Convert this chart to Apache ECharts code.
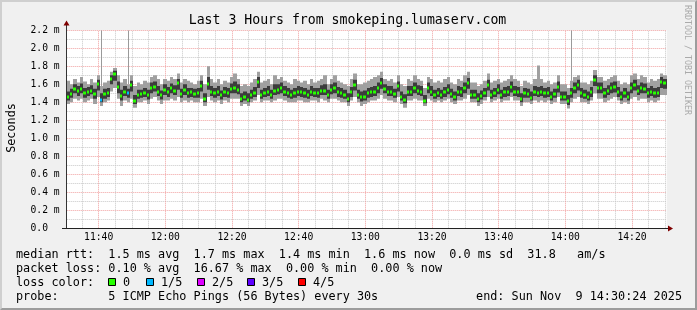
<!DOCTYPE html>
<html><head><meta charset="utf-8">
<script src="https://cdn.jsdelivr.net/npm/echarts@6/dist/echarts.min.js"></script>
<style>
html,body{margin:0;padding:0;background:#f0f0f0;}
#wrap{position:relative;width:697px;height:310px;overflow:hidden;}
#chart{position:absolute;left:0;top:0;width:697px;height:310px;}
#frame{position:absolute;left:0;top:0;width:697px;height:310px;box-sizing:border-box;border-top:2px solid #cfcfcf;border-left:2px solid #cfcfcf;border-right:2px solid #9c9c9c;border-bottom:2px solid #9c9c9c;pointer-events:none;}
</style></head><body>
<div id="wrap"><div id="chart"></div><div id="frame"></div></div>
<script>
// ---------------- data ----------------
const titleText = 'Last 3 Hours from smokeping.lumaserv.com';
const yAxisTitle = 'Seconds';
const sideText = 'RRDTOOL / TOBI OETIKER';
const startTime = '11:30:24';
const spanMinutes = 180;
const yTickValues = [0, 0.2, 0.4, 0.6, 0.8, 1.0, 1.2, 1.4, 1.6, 1.8, 2.0, 2.2];

// per-minute median RTT (ms)
const median = [
1.46,1.49,1.55,1.53,1.55,1.50,1.52,1.53,1.49,1.60,1.43,1.49,1.50,1.66,1.72,1.57,1.47,1.52,1.50,1.59,
1.41,1.48,1.49,1.50,1.48,1.56,1.57,1.52,1.48,1.54,1.51,1.56,1.53,1.61,1.49,1.54,1.50,1.51,1.49,1.50,
1.58,1.44,1.60,1.52,1.50,1.52,1.48,1.51,1.50,1.55,1.56,1.54,1.44,1.46,1.43,1.48,1.50,1.63,1.48,1.50,
1.52,1.48,1.53,1.54,1.56,1.52,1.50,1.48,1.50,1.52,1.51,1.50,1.48,1.52,1.50,1.50,1.53,1.53,1.48,1.54,
1.56,1.51,1.50,1.48,1.44,1.51,1.59,1.48,1.46,1.46,1.50,1.51,1.52,1.56,1.62,1.55,1.52,1.52,1.49,1.58,
1.46,1.43,1.52,1.52,1.56,1.53,1.52,1.42,1.56,1.52,1.48,1.50,1.48,1.51,1.54,1.49,1.46,1.52,1.51,1.56,
1.62,1.48,1.48,1.44,1.47,1.50,1.59,1.48,1.50,1.54,1.48,1.51,1.52,1.57,1.52,1.51,1.44,1.50,1.49,1.45,
1.52,1.50,1.52,1.50,1.50,1.46,1.49,1.57,1.46,1.46,1.41,1.50,1.56,1.59,1.50,1.48,1.46,1.51,1.65,1.56,
1.56,1.50,1.53,1.56,1.57,1.51,1.46,1.50,1.46,1.56,1.59,1.53,1.56,1.55,1.50,1.52,1.50,1.50,1.63,1.61
];
// slowest ping of each minute (top of smoke)
const maxPing = [
1.64,1.60,1.66,1.62,1.68,1.63,1.60,1.66,1.62,1.70,1.58,1.62,1.64,1.74,1.78,1.70,1.62,1.66,1.60,1.70,
1.58,1.62,1.60,1.64,1.62,1.68,1.70,1.66,1.60,1.66,1.64,1.68,1.66,1.72,1.62,1.66,1.64,1.62,1.60,1.64,
1.70,1.60,1.80,1.66,1.62,1.66,1.60,1.64,1.62,1.68,1.72,1.66,1.58,1.60,1.58,1.62,1.66,1.74,1.62,1.64,
1.66,1.60,1.70,1.66,1.68,1.64,1.62,1.60,1.66,1.64,1.62,1.64,1.60,1.66,1.62,1.64,1.66,1.70,1.60,1.66,
1.70,1.64,1.62,1.60,1.58,1.66,1.72,1.60,1.60,1.62,1.64,1.66,1.68,1.70,1.74,1.66,1.64,1.66,1.62,1.70,
1.60,1.58,1.66,1.64,1.70,1.66,1.64,1.56,1.68,1.66,1.62,1.64,1.62,1.66,1.68,1.62,1.60,1.66,1.64,1.70,
1.74,1.62,1.62,1.58,1.60,1.64,1.72,1.62,1.64,1.66,1.62,1.64,1.66,1.70,1.66,1.64,1.58,1.64,1.62,1.60,
1.66,1.81,1.66,1.62,1.64,1.60,1.62,1.70,1.60,1.60,1.56,1.64,1.68,1.70,1.62,1.62,1.60,1.64,1.76,1.68,
1.68,1.64,1.66,1.68,1.70,1.64,1.60,1.62,1.60,1.70,1.72,1.66,1.70,1.68,1.62,1.66,1.64,1.66,1.72,1.70
];
// fastest ping of each minute (bottom of smoke)
const minPing = [
1.38,1.40,1.44,1.42,1.44,1.40,1.42,1.44,1.38,1.46,1.36,1.40,1.42,1.52,1.56,1.44,1.36,1.42,1.40,1.44,
1.34,1.40,1.40,1.42,1.38,1.44,1.46,1.42,1.38,1.42,1.42,1.44,1.42,1.46,1.40,1.42,1.40,1.42,1.40,1.40,
1.44,1.36,1.46,1.42,1.40,1.42,1.38,1.42,1.40,1.44,1.44,1.44,1.36,1.38,1.36,1.40,1.42,1.48,1.40,1.42,
1.42,1.40,1.42,1.44,1.44,1.42,1.40,1.40,1.40,1.42,1.42,1.40,1.40,1.42,1.42,1.40,1.44,1.42,1.40,1.44,
1.44,1.42,1.40,1.40,1.36,1.42,1.46,1.40,1.36,1.38,1.40,1.42,1.42,1.44,1.48,1.44,1.42,1.42,1.40,1.46,
1.38,1.34,1.42,1.42,1.44,1.42,1.42,1.36,1.44,1.42,1.40,1.42,1.40,1.42,1.44,1.40,1.38,1.42,1.42,1.44,
1.48,1.40,1.40,1.36,1.38,1.42,1.46,1.40,1.42,1.44,1.40,1.42,1.42,1.46,1.42,1.42,1.36,1.40,1.40,1.38,
1.42,1.40,1.42,1.40,1.42,1.38,1.40,1.46,1.38,1.38,1.33,1.40,1.44,1.46,1.40,1.40,1.38,1.42,1.50,1.44,
1.44,1.40,1.42,1.44,1.46,1.42,1.38,1.40,1.38,1.44,1.46,1.42,1.44,1.44,1.40,1.42,1.40,1.42,1.48,1.48
];
// 2nd fastest ping (bottom of dense smoke)
const loPing = [
1.42,1.45,1.50,1.47,1.50,1.45,1.47,1.49,1.44,1.53,1.40,1.44,1.46,1.60,1.64,1.50,1.42,1.47,1.45,1.52,
1.38,1.44,1.45,1.46,1.43,1.50,1.52,1.47,1.43,1.48,1.46,1.50,1.48,1.54,1.45,1.48,1.45,1.46,1.45,1.45,
1.52,1.40,1.54,1.47,1.45,1.47,1.43,1.46,1.45,1.50,1.50,1.49,1.40,1.42,1.40,1.44,1.46,1.56,1.44,1.46,
1.47,1.44,1.48,1.49,1.50,1.47,1.45,1.44,1.45,1.47,1.46,1.45,1.44,1.47,1.46,1.45,1.48,1.48,1.44,1.49,
1.50,1.46,1.45,1.44,1.40,1.46,1.53,1.44,1.41,1.42,1.45,1.46,1.47,1.50,1.55,1.50,1.47,1.47,1.45,1.52,
1.42,1.39,1.47,1.47,1.50,1.48,1.47,1.39,1.50,1.47,1.44,1.46,1.44,1.46,1.49,1.45,1.42,1.47,1.46,1.50,
1.55,1.44,1.44,1.40,1.43,1.46,1.53,1.44,1.46,1.49,1.44,1.46,1.47,1.51,1.47,1.46,1.40,1.45,1.45,1.42,
1.47,1.46,1.47,1.45,1.46,1.42,1.45,1.51,1.42,1.42,1.37,1.45,1.50,1.53,1.45,1.44,1.42,1.46,1.58,1.50,
1.50,1.45,1.48,1.50,1.51,1.46,1.42,1.45,1.42,1.50,1.53,1.48,1.50,1.50,1.45,1.47,1.45,1.46,1.56,1.55
];
// 4th fastest ping (top of dense smoke)
const hiPing = [
1.52,1.55,1.60,1.58,1.61,1.56,1.57,1.59,1.55,1.65,1.50,1.55,1.56,1.70,1.75,1.63,1.54,1.58,1.55,1.64,
1.48,1.54,1.54,1.56,1.54,1.62,1.63,1.58,1.53,1.60,1.57,1.61,1.59,1.66,1.55,1.60,1.56,1.56,1.55,1.56,
1.64,1.50,1.68,1.58,1.56,1.58,1.53,1.57,1.56,1.61,1.63,1.60,1.50,1.52,1.50,1.54,1.57,1.68,1.54,1.56,
1.58,1.54,1.60,1.60,1.62,1.58,1.56,1.54,1.56,1.58,1.57,1.56,1.54,1.58,1.56,1.56,1.59,1.60,1.54,1.60,
1.62,1.57,1.56,1.54,1.50,1.57,1.65,1.54,1.52,1.53,1.56,1.57,1.58,1.62,1.67,1.60,1.58,1.58,1.55,1.63,
1.52,1.49,1.58,1.58,1.62,1.59,1.58,1.48,1.62,1.58,1.54,1.56,1.54,1.57,1.60,1.55,1.52,1.58,1.57,1.62,
1.67,1.54,1.54,1.50,1.53,1.56,1.65,1.54,1.56,1.60,1.54,1.57,1.58,1.63,1.58,1.57,1.50,1.56,1.55,1.52,
1.58,1.57,1.58,1.56,1.57,1.52,1.55,1.63,1.52,1.52,1.48,1.56,1.62,1.65,1.56,1.54,1.52,1.57,1.70,1.62,
1.62,1.56,1.59,1.62,1.63,1.57,1.52,1.56,1.52,1.62,1.65,1.59,1.62,1.61,1.56,1.58,1.56,1.57,1.68,1.66
];
// off-scale outliers
const peakSteps = [10, 18, 151];
const peakValues = [2.4, 2.4, 2.4];
// packet loss (lost pings out of 5)
const lossSteps = [10, 18];
const lossCounts = [1, 1];
const lossColors = ['#26ff00', '#00b8ff', '#dd00ff', '#5e00ff', '#ff0000'];
const lossLabels = ['0', '1/5', '2/5', '3/5', '4/5'];

const rttStats = ['1.5 ms avg', '1.7 ms max', '1.4 ms min', '1.6 ms now', '0.0 ms sd', '31.8   am/s'];
const lossStats = ['0.10 % avg', '16.67 % max', '0.00 % min', '0.00 % now'];
const probeText = '5 ICMP Echo Pings (56 Bytes) every 30s';
const endText = 'end: Sun Nov  9 14:30:24 2025';

// ---------------- build ----------------
const MONO = '"DejaVu Sans Mono", monospace';
function toMin(s){const p=s.split(':').map(Number);return p[0]*60+p[1]+(p[2]||0)/60;}
const t0 = toMin(startTime);
const gridData = [], gridLabels = [];
for (let m = Math.ceil(t0/5)*5; m <= t0 + spanMinutes + 1e-9; m += 5) {
  const major = (m % 20 === 0) ? 1 : 0;
  gridData.push([m - t0, major]);
  const h = Math.floor(m/60), mm = m % 60;
  gridLabels.push((h<10?'0':'')+h+':'+(mm<10?'0':'')+mm);
}
const lossOf = i => { const k = lossSteps.indexOf(i); return k < 0 ? 0 : lossCounts[k]; };
const smokeData = median.map((m, i) => [i, minPing[i], loPing[i], m, hiPing[i], maxPing[i], lossOf(i)]);
const peakData = peakSteps.map((s, k) => [s, maxPing[s], peakValues[k]]);
const yMax = yTickValues[yTickValues.length-1];

const chart = echarts.init(document.getElementById('chart'), null, {renderer:'canvas'});

const graphics = [];
graphics.push({type:'text', x:347.5, y:20.5, style:{text:titleText, font:'13.2px '+MONO, fill:'#000', align:'center', verticalAlign:'middle'}});
graphics.push({type:'text', x:11.5, y:128, rotation:Math.PI/2, style:{text:yAxisTitle, font:'11.8px '+MONO, fill:'#000', align:'center', verticalAlign:'middle'}});
graphics.push({type:'text', x:687.5, y:60, rotation:-Math.PI/2, style:{text:sideText, font:'8.3px '+MONO, fill:'#aaaaaa', align:'center', verticalAlign:'middle'}});
// axes
graphics.push({type:'line', shape:{x1:66.5,y1:228,x2:66.5,y2:24}, style:{stroke:'#333', lineWidth:1}, z:10});
graphics.push({type:'line', shape:{x1:62,y1:228.5,x2:668,y2:228.5}, style:{stroke:'#222', lineWidth:1}, z:10});
graphics.push({type:'polygon', shape:{points:[[63.5,25.5],[69.5,25.5],[66.5,20.5]]}, style:{fill:'#7f0000'}, z:10});
graphics.push({type:'polygon', shape:{points:[[668,225.5],[668,231.5],[673,228.5]]}, style:{fill:'#7f0000'}, z:10});
// legend
const rowY = [255, 269, 283, 297];
graphics.push({type:'text', x:16, y:rowY[0], style:{text:'median rtt:  ' + rttStats.join('  '), font:'11.8px '+MONO, fill:'#000', verticalAlign:'middle'}});
graphics.push({type:'text', x:16, y:rowY[1], style:{text:'packet loss: ' + lossStats.join('  '), font:'11.8px '+MONO, fill:'#000', verticalAlign:'middle'}});
graphics.push({type:'text', x:16, y:rowY[2], style:{text:'loss color:', font:'11.8px '+MONO, fill:'#000', verticalAlign:'middle'}});
const boxX = [108, 146, 197, 247, 298];
lossLabels.forEach((lab, k) => {
  graphics.push({type:'rect', shape:{x:boxX[k]+0.5, y:278.5, width:7, height:7}, style:{fill:lossColors[k], stroke:'#000', lineWidth:1}});
  graphics.push({type:'text', x:boxX[k]+15, y:rowY[2], style:{text:lab, font:'11.8px '+MONO, fill:'#000', verticalAlign:'middle'}});
});
graphics.push({type:'text', x:16, y:rowY[3], style:{text:'probe:       ' + probeText, font:'11.8px '+MONO, fill:'#000', verticalAlign:'middle'}});
graphics.push({type:'text', x:682, y:rowY[3], style:{text:endText, font:'11.8px '+MONO, fill:'#000', align:'right', verticalAlign:'middle'}});

chart.setOption({
  animation:false,
  backgroundColor:'#f0f0f0',
  grid:{left:66.7, top:30.3, width:600, height:198, show:true, backgroundColor:'#ffffff', borderWidth:0, containLabel:false, outerBoundsMode:'none'},
  xAxis:{type:'value', min:0, max:spanMinutes, show:true, axisLine:{show:false}, axisTick:{show:false}, axisLabel:{show:false}, splitLine:{show:false}},
  yAxis:{type:'value', min:0, max:yMax, interval:0.2,
    axisLine:{show:false}, axisTick:{show:false},
    axisLabel:{margin:7, fontFamily:'DejaVu Sans Mono', fontSize:9.7, color:'#000',
      formatter: v => Math.abs(v) < 1e-9 ? '0.0  ' : v.toFixed(1) + ' m'},
    splitLine:{show:true, lineStyle:{color:'#f0a0a0', width:1, type:[1,1]}},
    minorTick:{show:false, splitNumber:2},
    minorSplitLine:{show:true, lineStyle:{color:'#c8c8c8', width:1, type:[1,1]}}
  },
  graphic: graphics,
  series:[
    { type:'custom', name:'grid', z:1, silent:true, clip:false, data:gridData,
      encode:{x:0},
      renderItem:(params, api) => {
        const off = api.value(0), major = api.value(1);
        const p0 = api.coord([off, 0]), p1 = api.coord([off, yMax]);
        const x = Math.floor(p0[0]) + 0.5;
        const ch = [{type:'line', shape:{x1:x, y1:p0[1], x2:x, y2:p1[1]}, style:{stroke: major ? '#f0a0a0' : '#c8c8c8', lineWidth:1, lineDash:[1,1]}}];
        if (major) ch.push({type:'text', x:p0[0], y:p0[1]+9.5, style:{text:gridLabels[params.dataIndex], font:'9.7px '+MONO, fill:'#000', align:'center', verticalAlign:'middle'}});
        return {type:'group', children:ch};
      }
    },
    { type:'custom', name:'peaks', z:2, silent:true, clip:true, data:peakData,
      encode:{x:0, y:[1,2]},
      renderItem:(params, api) => {
        const s = api.value(0);
        const xa = Math.round(api.coord([s, 0])[0]), xb = Math.round(api.coord([s+1, 0])[0]);
        const x = Math.floor((xa+xb)/2);
        const yb = api.coord([s, api.value(1)])[1];
        const yt = api.coord([s, Math.min(api.value(2), yMax)])[1];
        return {type:'rect', shape:{x:x, y:yt, width:1, height:yb-yt}, style:{fill:'#9a9a9a'}};
      }
    },
    { type:'custom', name:'smoke', z:3, silent:true, clip:true, data:smokeData,
      encode:{x:0, y:[1,2,3,4,5]},
      renderItem:(params, api) => {
        const i = api.value(0);
        const x0 = Math.round(api.coord([i, 0])[0]), x1 = Math.round(api.coord([i+1, 0])[0]);
        const w = x1 - x0;
        const yMin = api.coord([i, api.value(1)])[1];
        const yLo = api.coord([i, api.value(2)])[1];
        const yMed = api.coord([i, api.value(3)])[1];
        const yHi = api.coord([i, api.value(4)])[1];
        const yMx = api.coord([i, api.value(5)])[1];
        const c = lossColors[api.value(6)];
        return {type:'group', children:[
          {type:'rect', shape:{x:x0, y:yMx, width:w, height:yMin-yMx}, style:{fill:'#a0a0a0'}},
          {type:'rect', shape:{x:x0, y:yHi, width:w, height:yLo-yHi}, style:{fill:'#3c3c3c'}},
          {type:'rect', shape:{x:x0, y:Math.round(yMed)-1.5, width:Math.max(w-1, 2), height:3}, style:{fill:c}}
        ]};
      }
    }
  ]
});
</script>
</body></html>
